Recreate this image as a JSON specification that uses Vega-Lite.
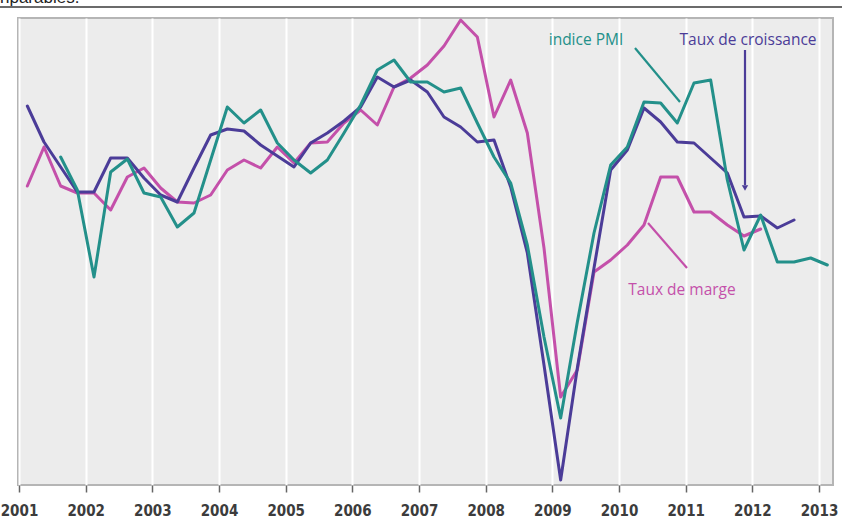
{
  "$schema": "https://vega.github.io/schema/vega-lite/v6.json",
  "width": 815,
  "height": 467,
  "autosize": {"type": "none"},
  "padding": {"left": 18, "top": 18, "right": 9, "bottom": 44},
  "background": "white",
  "config": {"view": {"fill": "#ececec", "stroke": "#b5b5b5", "strokeWidth": 2}},
  "datasets": {
    "series": [
      {"t": 2001.125, "croissance": 379, "pmi": null, "marge": 299},
      {"t": 2001.375, "croissance": 343, "pmi": null, "marge": 338},
      {"t": 2001.625, "croissance": 318, "pmi": 328, "marge": 299},
      {"t": 2001.875, "croissance": 293, "pmi": 295, "marge": 292},
      {"t": 2002.125, "croissance": 293, "pmi": 208, "marge": 292},
      {"t": 2002.375, "croissance": 327, "pmi": 313, "marge": 275},
      {"t": 2002.625, "croissance": 327, "pmi": 326, "marge": 308},
      {"t": 2002.875, "croissance": 307, "pmi": 292, "marge": 317},
      {"t": 2003.125, "croissance": 290, "pmi": 288, "marge": 297},
      {"t": 2003.375, "croissance": 283, "pmi": 258, "marge": 283},
      {"t": 2003.625, "croissance": 317, "pmi": 272, "marge": 282},
      {"t": 2003.875, "croissance": 350, "pmi": 325, "marge": 290},
      {"t": 2004.125, "croissance": 356, "pmi": 378, "marge": 315},
      {"t": 2004.375, "croissance": 354, "pmi": 362, "marge": 325},
      {"t": 2004.625, "croissance": 340, "pmi": 375, "marge": 317},
      {"t": 2004.875, "croissance": 329, "pmi": 342, "marge": 338},
      {"t": 2005.125, "croissance": 318, "pmi": 325, "marge": 322},
      {"t": 2005.375, "croissance": 342, "pmi": 312, "marge": 342},
      {"t": 2005.625, "croissance": 352, "pmi": 325, "marge": 343},
      {"t": 2005.875, "croissance": 364, "pmi": 352, "marge": 362},
      {"t": 2006.125, "croissance": 378, "pmi": 380, "marge": 375},
      {"t": 2006.375, "croissance": 408, "pmi": 415, "marge": 360},
      {"t": 2006.625, "croissance": 398, "pmi": 425, "marge": 398},
      {"t": 2006.875, "croissance": 405, "pmi": 403, "marge": 407},
      {"t": 2007.125, "croissance": 393, "pmi": 403, "marge": 420},
      {"t": 2007.375, "croissance": 368, "pmi": 393, "marge": 439},
      {"t": 2007.625, "croissance": 358, "pmi": 397, "marge": 465},
      {"t": 2007.875, "croissance": 343, "pmi": 362, "marge": 448},
      {"t": 2008.125, "croissance": 345, "pmi": 328, "marge": 368},
      {"t": 2008.375, "croissance": 298, "pmi": 302, "marge": 405},
      {"t": 2008.625, "croissance": 232, "pmi": 240, "marge": 352},
      {"t": 2008.875, "croissance": 120, "pmi": 148, "marge": 237},
      {"t": 2009.125, "croissance": 5, "pmi": 67, "marge": 88},
      {"t": 2009.375, "croissance": 117, "pmi": 163, "marge": 115},
      {"t": 2009.625, "croissance": 217, "pmi": 252, "marge": 213},
      {"t": 2009.875, "croissance": 315, "pmi": 320, "marge": 225},
      {"t": 2010.125, "croissance": 335, "pmi": 338, "marge": 240},
      {"t": 2010.375, "croissance": 377, "pmi": 383, "marge": 260},
      {"t": 2010.625, "croissance": 363, "pmi": 382, "marge": 308},
      {"t": 2010.875, "croissance": 343, "pmi": 362, "marge": 308},
      {"t": 2011.125, "croissance": 342, "pmi": 402, "marge": 273},
      {"t": 2011.375, "croissance": 327, "pmi": 405, "marge": 273},
      {"t": 2011.625, "croissance": 312, "pmi": 305, "marge": 260},
      {"t": 2011.875, "croissance": 268, "pmi": 235, "marge": 249},
      {"t": 2012.125, "croissance": 269, "pmi": 270, "marge": 256},
      {"t": 2012.375, "croissance": 257, "pmi": 223, "marge": null},
      {"t": 2012.625, "croissance": 265, "pmi": 223, "marge": null},
      {"t": 2012.875, "croissance": null, "pmi": 227, "marge": null},
      {"t": 2013.125, "croissance": null, "pmi": 220, "marge": null}
    ],
    "pointers": [
      {"serie": "pmi", "t": 2010.24, "v": 437, "t2": 2010.915, "v2": 383},
      {"serie": "croissance", "t": 2011.89, "v": 435, "t2": 2011.89, "v2": 300},
      {"serie": "marge", "t": 2010.435, "v": 262, "t2": 2011.02, "v2": 217}
    ],
    "labels": [
      {"serie": "pmi", "label": "indice PMI", "t": 2009.505, "v": 445},
      {"serie": "croissance", "label": "Taux de croissance", "t": 2011.935, "v": 445},
      {"serie": "marge", "label": "Taux de marge", "t": 2010.945, "v": 195}
    ],
    "arrow": [
      {"serie": "croissance", "t": 2011.89, "v": 297}
    ],
    "headerline": [
      {"t": 2000.6, "t2": 2013.5, "v": 478}
    ],
    "headertext": [
      {"text": "nparables.", "t": 2000.715, "v": 482}
    ]
  },
  "encoding": {
    "x": {
      "field": "t", "type": "quantitative", "title": null,
      "scale": {"domain": [2000.985, 2013.21], "nice": false, "zero": false},
      "axis": {
        "title": null, "values": [2001, 2002, 2003, 2004, 2005, 2006, 2007, 2008, 2009, 2010, 2011, 2012, 2013],
        "format": "d", "grid": true, "gridColor": "#ffffff", "gridWidth": 2, "domain": false,
        "ticks": true, "tickColor": "#666666", "tickSize": 7, "tickWidth": 1.5,
        "labelFont": "Liberation Sans Narrow, DejaVu Sans Condensed, Liberation Sans", "labelFontSize": 15, "labelFontWeight": "bold",
        "labelColor": "#3c3c3c", "labelPadding": 11, "labelFlush": false, "labelOverlap": false, "labelBound": false
      }
    },
    "y": {"field": "v", "type": "quantitative", "title": null, "scale": {"domain": [0, 467], "nice": false, "zero": false}, "axis": null}
  },
  "layer": [
    {
      "data": {"name": "headerline"},
      "mark": {"type": "rule", "color": "#3a3a3a", "strokeWidth": 1.6, "clip": false},
      "encoding": {"x2": {"field": "t2"}}
    },
    {
      "data": {"name": "headertext"},
      "mark": {"type": "text", "align": "left", "baseline": "alphabetic", "font": "Liberation Sans", "fontSize": 17, "color": "#222", "clip": false},
      "encoding": {"text": {"field": "text"}}
    },
    {
      "data": {"name": "series"},
      "transform": [
        {"fold": ["marge", "pmi", "croissance"], "as": ["serie", "v"]},
        {"filter": "datum.v != null"}
      ],
      "mark": {"type": "line", "strokeWidth": 3, "strokeJoin": "round", "strokeCap": "round"},
      "encoding": {
        "color": {"field": "serie", "type": "nominal", "scale": {"domain": ["marge", "pmi", "croissance"], "range": ["#c450aa", "#23908a", "#4b3c98"]}, "legend": null},
        "order": {"field": "t", "type": "quantitative"}
      }
    },
    {
      "data": {"name": "pointers"},
      "mark": {"type": "rule", "strokeWidth": 2.2},
      "encoding": {
        "x2": {"field": "t2"},
        "y2": {"field": "v2"},
        "color": {"field": "serie", "type": "nominal", "legend": null}
      }
    },
    {
      "data": {"name": "arrow"},
      "mark": {"type": "point", "shape": "triangle-down", "filled": true, "size": 40, "opacity": 1},
      "encoding": {
        "color": {"field": "serie", "type": "nominal", "legend": null}
      }
    },
    {
      "data": {"name": "labels"},
      "mark": {"type": "text", "font": "Open Sans", "fontSize": 15.5, "align": "center", "baseline": "middle"},
      "encoding": {
        "text": {"field": "label"},
        "color": {"field": "serie", "type": "nominal", "legend": null}
      }
    }
  ]
}
